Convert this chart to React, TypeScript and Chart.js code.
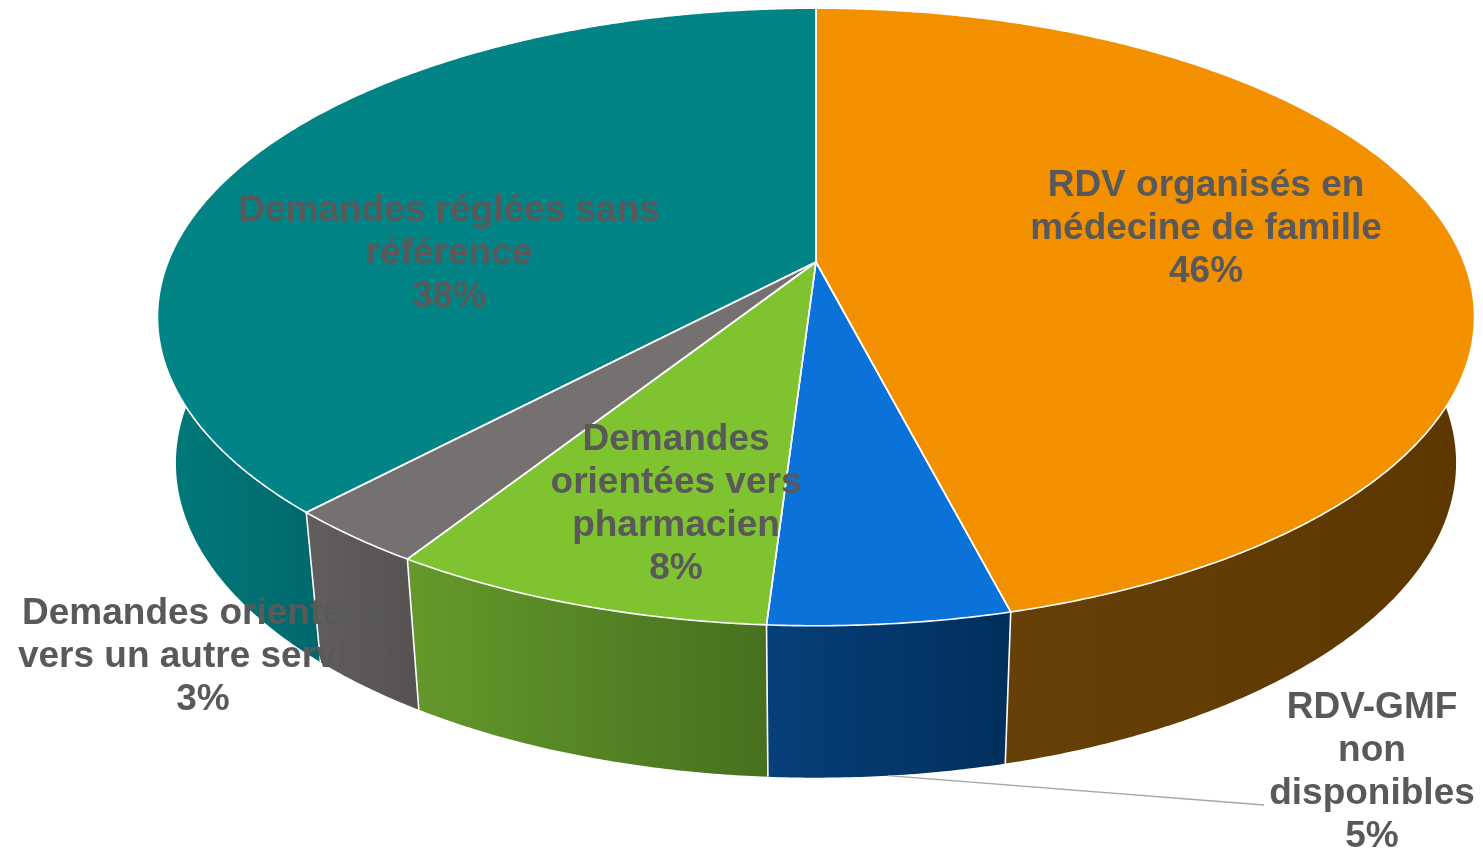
import { useEffect, useRef } from "react";
import { Chart, registerables } from "chart.js";

Chart.register(...registerables);

// ---- data ----
const categories: string[][] = [
  ["RDV organisés en", "médecine de famille"],
  ["RDV-GMF", "non", "disponibles"],
  ["Demandes", "orientées vers", "pharmacien"],
  ["Demandes orientées", "vers un autre service"],
  ["Demandes réglées sans", "référence"],
];
const shares: number[] = [46, 5, 8, 3, 38];

// ---- styles ----
const topColors = ["#F39000", "#0A72D8", "#80C330", "#767171", "#028486"];
const wallColors: [string, string][] = [
  ["#664006", "#5C3700"],
  ["#073F79", "#002F5C"],
  ["#65992B", "#47701E"],
  ["#625E5E", "#565252"],
  ["#007A7C", "#00686C"],
];
const labelColor = "#595959";
const labelFont = "bold 37px 'Liberation Sans', Arial, sans-serif";
const lineHeight = 43;

// 3D view (projection of the pie disc)
const view = { cx: 816, cy: 262, rx: 648, ry: 299, persp: 0.178, depthBase: 113, depthPersp: 32, bottomScale: 0.972 };

// label block centers (text layout)
const labelCenters = [
  { x: 1206, y: 229 },
  { x: 1372, y: 772 },
  { x: 676, y: 504 },
  { x: 203, y: 657 },
  { x: 449, y: 254 },
];
const leader = { index: 1, to: { x: 1264, y: 805 } };

function topPt(t: number, f = 1) {
  const s = Math.sin(t) * f;
  const c = Math.cos(t) * f;
  const k = 1 / (1 - view.persp * s);
  return { x: view.cx + view.rx * c * k, y: view.cy + view.ry * s * k, k };
}
function botPt(t: number) {
  const p = topPt(t);
  return {
    x: view.cx + (p.x - view.cx) * view.bottomScale,
    y: p.y + view.depthBase + view.depthPersp * p.k,
  };
}
function sample(lo: number, hi: number) {
  const n = Math.max(2, Math.ceil((hi - lo) * 140));
  const out: number[] = [];
  for (let i = 0; i <= n; i++) out.push(lo + ((hi - lo) * i) / n);
  return out;
}

const pie3d = {
  id: "pie3d",
  beforeDatasetsDraw(chart: any) {
    const ctx: CanvasRenderingContext2D = chart.ctx;
    const meta = chart.getDatasetMeta(0);
    const arcs = meta.data.map((el: any) => el.getProps(["startAngle", "endAngle"], true));
    const V0 = -0.35;
    const V1 = Math.PI + 0.35;
    ctx.save();
    // side walls
    arcs.forEach((a: any, i: number) => {
      const lo = Math.max(a.startAngle, V0);
      const hi = Math.min(a.endAngle, V1);
      if (hi <= lo) return;
      const ts = sample(lo, hi);
      const tops = ts.map((t) => topPt(t));
      const bots = ts.map((t) => botPt(t));
      ctx.beginPath();
      tops.forEach((p, j) => (j ? ctx.lineTo(p.x, p.y) : ctx.moveTo(p.x, p.y)));
      for (let j = bots.length - 1; j >= 0; j--) ctx.lineTo(bots[j].x, bots[j].y);
      ctx.closePath();
      const xs = tops.map((p) => p.x).concat(bots.map((p) => p.x));
      const minX = Math.min(...xs);
      const maxX = Math.max(...xs);
      const g = ctx.createLinearGradient(minX, 0, maxX + 0.01, 0);
      g.addColorStop(0, wallColors[i][0]);
      g.addColorStop(1, wallColors[i][1]);
      ctx.fillStyle = g;
      ctx.fill();
    });
    // wall boundaries
    ctx.strokeStyle = "#FFFFFF";
    ctx.lineWidth = 1.6;
    arcs.forEach((a: any) => {
      const t = a.endAngle;
      if (Math.sin(t) > 0.05) {
        const p = topPt(t);
        const b = botPt(t);
        ctx.beginPath();
        ctx.moveTo(p.x, p.y);
        ctx.lineTo(b.x, b.y);
        ctx.stroke();
      }
    });
    // top faces
    arcs.forEach((a: any, i: number) => {
      const ts = sample(a.startAngle, a.endAngle);
      ctx.beginPath();
      ctx.moveTo(view.cx, view.cy);
      ts.forEach((t) => {
        const p = topPt(t);
        ctx.lineTo(p.x, p.y);
      });
      ctx.closePath();
      ctx.fillStyle = topColors[i];
      ctx.fill();
    });
    ctx.strokeStyle = "#FFFFFF";
    ctx.lineWidth = 1.6;
    ctx.lineJoin = "round";
    arcs.forEach((a: any) => {
      const ts = sample(a.startAngle, a.endAngle);
      ctx.beginPath();
      ctx.moveTo(view.cx, view.cy);
      ts.forEach((t) => {
        const p = topPt(t);
        ctx.lineTo(p.x, p.y);
      });
      ctx.closePath();
      ctx.stroke();
    });
    // leader line
    const la = arcs[leader.index];
    const mid = (la.startAngle + la.endAngle) / 2;
    const s = botPt(mid);
    ctx.beginPath();
    ctx.moveTo(s.x, s.y);
    ctx.lineTo(leader.to.x, leader.to.y);
    ctx.strokeStyle = "#A6A6A6";
    ctx.lineWidth = 1.3;
    ctx.stroke();
    ctx.restore();
    return false;
  },
  afterDraw(chart: any) {
    const ctx: CanvasRenderingContext2D = chart.ctx;
    const data: number[] = chart.data.datasets[0].data;
    const total = data.reduce((a, b) => a + b, 0);
    ctx.save();
    ctx.font = labelFont;
    ctx.fillStyle = labelColor;
    ctx.textAlign = "center";
    ctx.textBaseline = "middle";
    (chart.data.labels as string[][]).forEach((lbl, i) => {
      const lines = [...lbl, Math.round((data[i] / total) * 100) + "%"];
      const c = labelCenters[i];
      lines.forEach((ln, j) => {
        ctx.fillText(ln, c.x, c.y + (j - (lines.length - 1) / 2) * lineHeight);
      });
    });
    ctx.restore();
  },
};

export default function App() {
  const ref = useRef<HTMLCanvasElement | null>(null);
  useEffect(() => {
    document.body.style.margin = "0";
    document.body.style.overflow = "hidden";
    const chart = new Chart(ref.current as HTMLCanvasElement, {
      type: "pie",
      data: {
        labels: categories,
        datasets: [{ data: shares, backgroundColor: topColors, borderColor: "#FFFFFF" }],
      },
      options: {
        animation: false,
        responsive: false,
        plugins: { legend: { display: false }, tooltip: { enabled: false } },
      },
      plugins: [pie3d],
    });
    return () => chart.destroy();
  }, []);
  return (
    <div style={{ width: 1483, height: 852, background: "#FFFFFF" }}>
      <canvas ref={ref} width={1483} height={852} style={{ display: "block" }} />
    </div>
  );
}
